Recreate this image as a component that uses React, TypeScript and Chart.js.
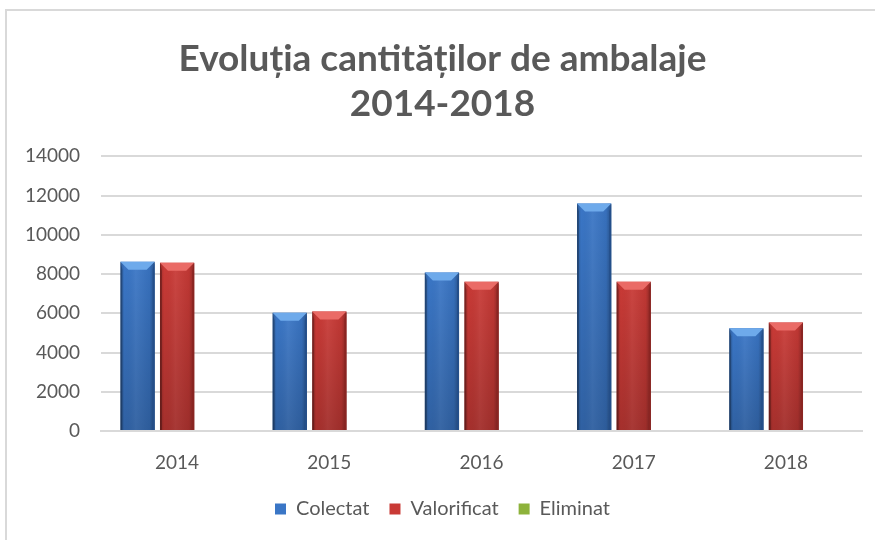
import React, { useEffect, useRef } from "react";
import { Chart, registerables } from "chart.js";

Chart.register(...registerables);

const years = ["2014", "2015", "2016", "2017", "2018"];
const colectat = [8620, 6020, 8080, 11590, 5230];
const valorificat = [8570, 6090, 7600, 7600, 5530];
const eliminat = [0, 0, 0, 0, 0];
const yTicks = [0, 2000, 4000, 6000, 8000, 10000, 12000, 14000];
const titleLines = ["Evoluția cantităților de ambalaje", "2014-2018"];

const seriesNames = ["Colectat", "Valorificat", "Eliminat"];
const mainColors = ["#3a76c6", "#c93a36", "#8db23b"];
const lightColors = ["#6eaaeb", "#ea6b66", "#b6d66a"];
const darkColors = ["#244f8a", "#8a2522", "#5e7a22"];

const FONT = "Lato, 'Open Sans', sans-serif";
const GRAY = "#595959";

const bevelPlugin = {
  id: "bevel",
  afterDatasetsDraw(chart: any) {
    const ctx = chart.ctx;
    chart.data.datasets.forEach((ds: any, di: number) => {
      const meta = chart.getDatasetMeta(di);
      if (!meta || meta.hidden) return;
      meta.data.forEach((bar: any) => {
        const { x, y, base, width } = bar.getProps(["x", "y", "base", "width"], true);
        const h = base - y;
        if (h <= 1) return;
        const l = x - width / 2;
        const r = x + width / 2;
        const t = y;
        const b = base;
        const bv = Math.min(8, h / 2);
        ctx.save();
        const g = ctx.createLinearGradient(l, 0, r, 0);
        g.addColorStop(0, "rgba(0,0,0,0.22)");
        g.addColorStop(0.12, "rgba(0,0,0,0.0)");
        g.addColorStop(0.45, "rgba(255,255,255,0.06)");
        g.addColorStop(0.85, "rgba(0,0,0,0.05)");
        g.addColorStop(1, "rgba(0,0,0,0.3)");
        ctx.fillStyle = g;
        ctx.fillRect(l, t, width, h);
        const gv = ctx.createLinearGradient(0, t, 0, b);
        gv.addColorStop(0, "rgba(0,0,0,0)");
        gv.addColorStop(1, "rgba(0,0,0,0.18)");
        ctx.fillStyle = gv;
        ctx.fillRect(l, t, width, h);
        ctx.beginPath();
        ctx.moveTo(l, t);
        ctx.lineTo(r, t);
        ctx.lineTo(r - 8, t + bv);
        ctx.lineTo(l + 8, t + bv);
        ctx.closePath();
        ctx.fillStyle = lightColors[di];
        ctx.fill();
        ctx.beginPath();
        ctx.moveTo(l, t);
        ctx.lineTo(l + 2, t + bv);
        ctx.lineTo(l + 2, b);
        ctx.lineTo(l, b);
        ctx.closePath();
        ctx.fillStyle = "rgba(0,0,0,0.25)";
        ctx.fill();
        ctx.beginPath();
        ctx.moveTo(r, t);
        ctx.lineTo(r - 2, t + bv);
        ctx.lineTo(r - 2, b);
        ctx.lineTo(r, b);
        ctx.closePath();
        ctx.fillStyle = darkColors[di];
        ctx.fill();
        ctx.restore();
      });
    });
  },
};

export default function App() {
  const ref = useRef<HTMLCanvasElement>(null);
  useEffect(() => {
    if (!ref.current) return;
    const data = [colectat, valorificat, eliminat];
    const chart = new Chart(ref.current, {
      type: "bar",
      data: {
        labels: years,
        datasets: data.map((d, i) => ({
          label: seriesNames[i],
          data: d,
          backgroundColor: mainColors[i],
          borderWidth: 0,
          categoryPercentage: 0.78,
          barPercentage: 0.865,
        })),
      },
      options: {
        animation: false,
        responsive: false,
        maintainAspectRatio: false,
        layout: { padding: { left: 23, right: 13, top: 0, bottom: 11 } },
        plugins: {
          title: {
            display: true,
            text: titleLines,
            color: GRAY,
            font: { family: FONT, size: 37, weight: "bold", lineHeight: 1.22 },
            padding: { top: 36, bottom: 30 },
          },
          legend: {
            position: "bottom",
            labels: {
              color: GRAY,
              font: { family: FONT, size: 20 },
              boxWidth: 11,
              boxHeight: 11,
              padding: 20,
            },
          },
          tooltip: { enabled: false },
        },
        scales: {
          x: {
            grid: { display: false, drawTicks: false },
            border: { display: true, color: "#d9d9d9", width: 2 },
            ticks: { color: GRAY, font: { family: FONT, size: 19 }, padding: 20 },
            afterFit: (scale: any) => {
              scale.height = 48;
            },
          },
          y: {
            min: 0,
            max: 14000,
            afterBuildTicks: (axis: any) => {
              axis.ticks = yTicks.map((v) => ({ value: v }));
            },
            afterFit: (scale: any) => {
              scale.width = 78;
            },
            grid: { color: "#d9d9d9", lineWidth: 2, drawTicks: false },
            border: { display: false },
            ticks: {
              color: GRAY,
              font: { family: FONT, size: 19 },
              padding: 21,
              callback: (v: any) => String(v),
            },
          },
        },
      },
      plugins: [bevelPlugin],
    } as any);
    return () => chart.destroy();
  }, []);
  return (
    <div style={{ position: "fixed", left: 0, top: 0, width: 875, height: 540, background: "#fff", overflow: "hidden" }}>
      <div
        style={{
          position: "absolute",
          left: 5,
          top: 9,
          width: 900,
          height: 600,
          border: "2px solid #d9d9d9",
          boxSizing: "border-box",
        }}
      />
      <canvas ref={ref} width={875} height={540} style={{ position: "absolute", left: 0, top: 0 }} />
    </div>
  );
}
